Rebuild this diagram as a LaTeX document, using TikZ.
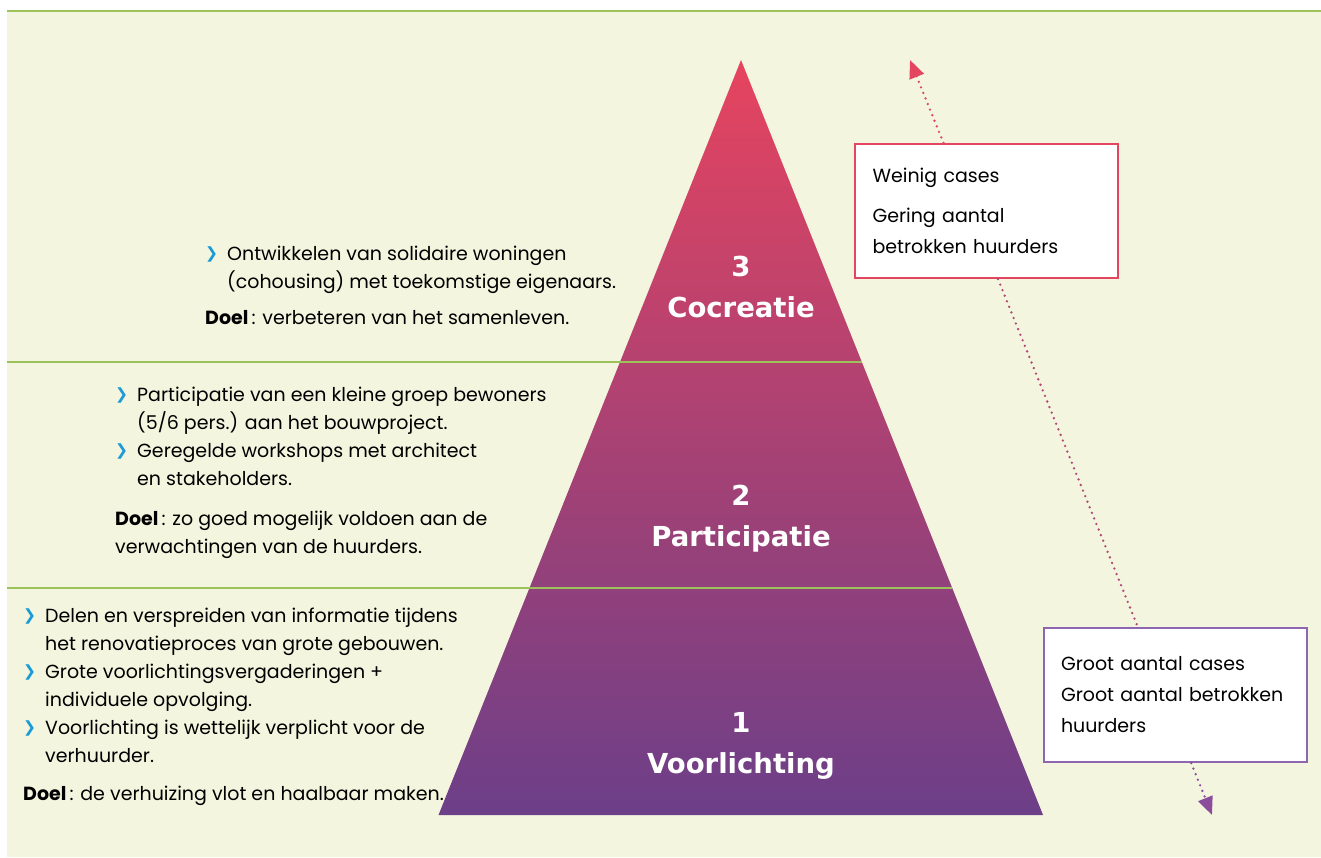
\documentclass[tikz,border=0pt]{standalone}
\usepackage{fontspec}
\setmainfont{Poppins}
\newfontfamily\levelfont{DejaVu Sans}
\usepackage{xcolor}
\usetikzlibrary{arrows.meta}

\definecolor{bgColor}{HTML}{F3F5DE}
\definecolor{lineGreen}{HTML}{9CC35A}
\definecolor{pyrTop}{HTML}{E6445F}
\definecolor{pyrBottom}{HTML}{6C3F88}
\definecolor{boxRed}{HTML}{E4465F}
\definecolor{boxPurple}{HTML}{8E65B0}
\definecolor{chevBlue}{HTML}{1B9AD6}
\definecolor{dotMid}{HTML}{B24878}
\definecolor{dotPurple}{HTML}{8B4C9C}

% bullet with hanging indent
\newcommand{\chv}{\makebox[22pt][l]{\raisebox{1.5pt}{\textcolor{chevBlue}{\levelfont\fontsize{15.5}{15.5}\selectfont ❯}}}}
\newcommand{\ind}{\hspace*{22pt}}

\tikzset{
  bodytext/.style={anchor=base west,align=left,inner sep=0pt,
    font=\fontsize{19}{28}\selectfont},
  levellabel/.style={anchor=base,align=center,inner sep=0pt,text=white,
    font=\levelfont\bfseries\fontsize{27.5}{41}\selectfont},
  levelline/.style={draw=lineGreen,line width=1.5pt},
  infobox/.style={draw,fill=white,line width=2pt,align=left,inner ysep=0pt,
    minimum width=263pt,minimum height=134pt,
    font=\fontsize{19}{31}\selectfont},
  dotline/.style={line width=2.6pt,line cap=round,dash pattern=on 0pt off 6pt},
  tip/.style={-{Triangle[length=18pt,width=15pt]}}
}

\begin{document}
\begin{tikzpicture}[x=1pt,y=-1pt]
\path[use as bounding box] (0,0) rectangle (1321,857);
\fill[bgColor] (7,11) rectangle (1321,857);
\draw[lineGreen,line width=2pt] (7,10.5) -- (1321,10.5);

% the pyramid
\shade[top color=pyrTop,bottom color=pyrBottom] (741,60) -- (1043,815) -- (438.5,815) -- cycle;
\draw[levelline] (7,362) -- (861.6,362);
\draw[levelline] (7,588) -- (951.9,588);

% anchor base = baseline of the last line
\node[levellabel] (cocreatie) at (741,317) {3\\Cocreatie};
\node[levellabel] (participatie) at (741,546) {2\\Participatie};
\node[levellabel] (voorlichting) at (741,773) {1\\Voorlichting};

% text per level
\node[bodytext] (txt3) at (205,324) {%
\chv Ontwikkelen van solidaire woningen\\
\ind(cohousing) met toekomstige eigenaars.\\[8pt]
\textbf{Doel}\,: verbeteren van het samenleven.};

\node[bodytext] (txt2) at (115,553) {%
\chv Participatie van een kleine groep bewoners\\
\ind(5/6 pers.) aan het bouwproject.\\
\chv Geregelde workshops met architect\\
\ind en stakeholders.\\[12pt]
\textbf{Doel}\,: zo goed mogelijk voldoen aan de\\
verwachtingen van de huurders.};

\node[bodytext] (txt1) at (23,800) {%
\chv Delen en verspreiden van informatie tijdens\\
\ind het renovatieproces van grote gebouwen.\\
\chv Grote voorlichtingsvergaderingen +\\
\ind individuele opvolging.\\
\chv Voorlichting is wettelijk verplicht voor de\\
\ind verhuurder.\\[10pt]
\textbf{Doel}\,: de verhuizing vlot en haalbaar maken.};

% side arrow with the two boxes
\coordinate (topTip) at (910,60);
\coordinate (bottomTip) at (1212,815);
\node[infobox,draw=boxRed,text width=227pt,inner xsep=18pt] (weinig) at (986,211) {%
Weinig cases\\[9pt]
Gering aantal\\
betrokken huurders};
\node[infobox,draw=boxPurple,text width=229pt,inner xsep=17pt] (groot) at (1175.5,695) {%
Groot aantal cases\\
Groot aantal betrokken\\
huurders};

\draw[dotline,boxRed,tip] (weinig.122.7) -- (topTip);
\draw[dotline,dotMid] (weinig.280.2) -- (groot.119.9);
\draw[dotline,dotPurple,tip] (groot.283) -- (bottomTip);
\end{tikzpicture}
\end{document}
